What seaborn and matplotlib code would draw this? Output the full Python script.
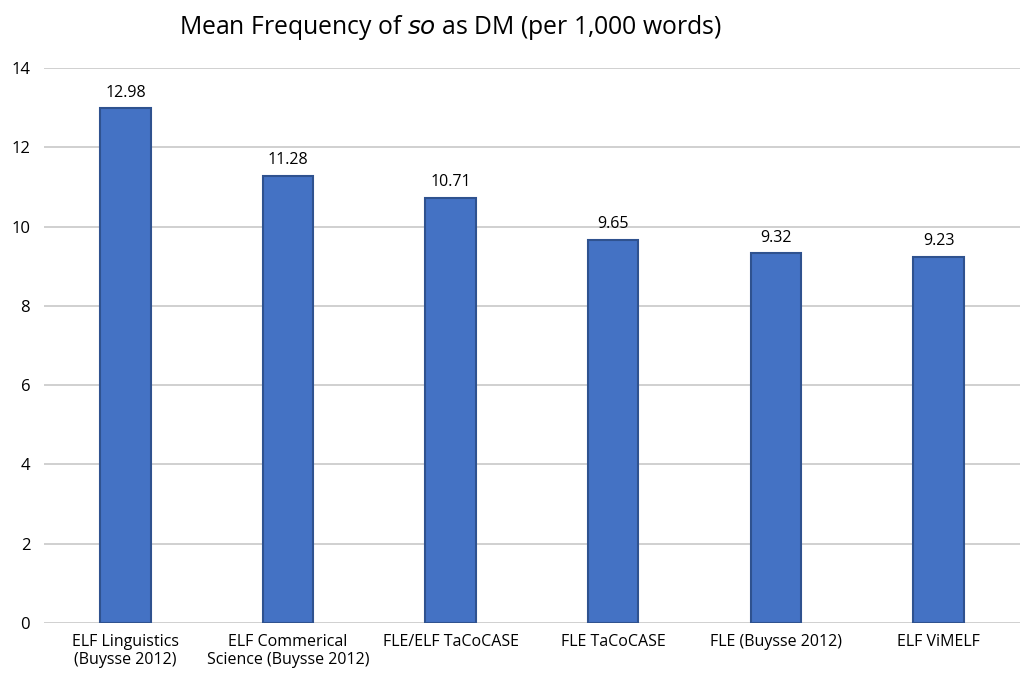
import matplotlib
matplotlib.use("Agg")
import matplotlib.pyplot as plt
import seaborn as sns
import pandas as pd

categories = ["ELF Linguistics\n(Buysse 2012)", "ELF Commerical\nScience (Buysse 2012)",
              "FLE/ELF TaCoCASE", "FLE TaCoCASE", "FLE (Buysse 2012)", "ELF ViMELF"]
values = [12.98, 11.28, 10.71, 9.65, 9.32, 9.23]
yticks = [0, 2, 4, 6, 8, 10, 12, 14]

df = pd.DataFrame({"cat": categories, "val": values})

sns.set_theme(style="white")
plt.rcParams['font.family'] = ['Open Sans', 'DejaVu Sans']
plt.rcParams['text.color'] = 'black'
plt.rcParams['xtick.color'] = 'black'
plt.rcParams['ytick.color'] = 'black'

fig = plt.figure(figsize=(10.26, 6.8), dpi=100)
ax = fig.add_axes([0.043, 0.084, 0.951, 0.816])
sns.barplot(data=df, x="cat", y="val", color="#4472C4", saturation=1, width=0.31,
            edgecolor="#2F528F", linewidth=1.5, ax=ax, zorder=3)

for i, v in enumerate(values):
    ax.text(i, v + 0.2, f"{v:.2f}", ha="center", va="bottom", fontsize=11.5, color="black")

ax.set_ylim(0, 14)
ax.set_yticks(yticks)
ax.set_yticklabels([str(t) for t in yticks], fontsize=12)
ax.yaxis.grid(True, color="#c8c8c8", linewidth=1.2, zorder=0)
ax.set_axisbelow(True)
for s in ax.spines.values():
    s.set_visible(False)
ax.tick_params(axis="y", length=0, pad=10)
ax.tick_params(axis="x", length=0, pad=8, labelsize=11.5)
ax.set_xlabel("")
ax.set_ylabel("")

fig.text(0.439, 0.959, "Mean Frequency of $\\it{so}$ as DM (per 1,000 words)",
         ha="center", va="center", fontsize=17.8, color="black")

fig.savefig("out.png", dpi=100, facecolor="white")
